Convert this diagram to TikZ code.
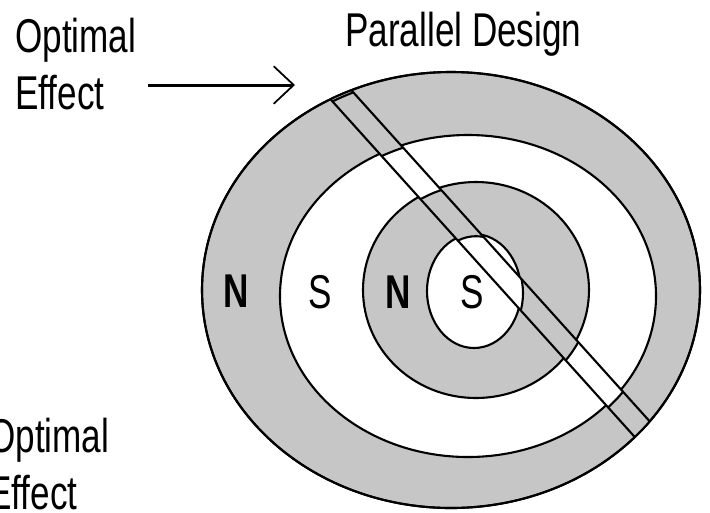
\documentclass[tikz,border=0pt]{standalone}
\usepackage{fontspec}
\newfontfamily\pixfont[FakeStretch=0.74]{Liberation Sans}
\usetikzlibrary{arrows.meta}
\definecolor{ringgray}{HTML}{C6C6C6}

% the four rings, shifted by #1 (used again for the slid band)
\newcommand{\magrings}[1]{%
  \begin{scope}[shift={#1}]
    \draw[ring, fill=ringgray] (451,290) ellipse [x radius=249, y radius=218];
    \draw[ring, fill=white]    (468,296) ellipse [x radius=188, y radius=161];
    \draw[ring, fill=ringgray] (476,290) ellipse [x radius=113, y radius=108];
    \draw[ring, fill=white]    (474,291) ellipse [x radius=47,  y radius=57];
  \end{scope}}

\begin{document}
\begin{tikzpicture}[x=0.02cm, y=-0.02cm,
  ring/.style={draw=black, line width=1.2pt},
  caption/.style={font=\pixfont\fontsize{27}{32.3}\selectfont, inner sep=0pt, align=left},
  pole/.style={font=\pixfont\fontsize{27}{30}\selectfont, inner sep=0pt},
  northpole/.style={pole, font=\pixfont\bfseries\fontsize{27}{30}\selectfont},
]
  \useasboundingbox (0,0) rectangle (710,512);
  \clip (0,0) rectangle (710,512);

  \node[caption, anchor=north west] (topeffect) at (15,18) {Optimal\\Effect};
  \node[caption, anchor=north west] (boteffect) at (-12,418) {Optimal\\Effect};
  \node[caption, anchor=north west] (title) at (345,12) {Parallel Design};

  \coordinate (arrstart) at (148,85);
  \coordinate (arrtip) at (295,85);
  \draw[line width=1.7pt, -{Straight Barb[length=0.4cm, width=0.75cm, line width=1pt]}] (arrstart) -- (arrtip);

  \magrings{(0,0)}

  % slid band
  \begin{scope}
    \clip (451,290) ellipse [x radius=249, y radius=218];
    \clip (280,43.2) -- (700,509.4) -- (700,477.2) -- (280,11) -- cycle;
    \fill[ringgray] (0,0) rectangle (710,512);
    \magrings{(2,2.2)}
  \end{scope}
  \begin{scope}
    \clip (451,290) ellipse [x radius=249, y radius=218];
    \draw[ring] (280,43.2) -- (700,509.4);
    \draw[ring] (280,11) -- (700,477.2);
  \end{scope}
  \draw[ring] (451,290) ellipse [x radius=249, y radius=218];

  \node[northpole] (n1) at (236,291) {N};
  \node[pole] (s1) at (320,292) {S};
  \node[northpole] (n2) at (398,292) {N};
  \node[pole] (s2) at (472,292) {S};
\end{tikzpicture}
\end{document}
